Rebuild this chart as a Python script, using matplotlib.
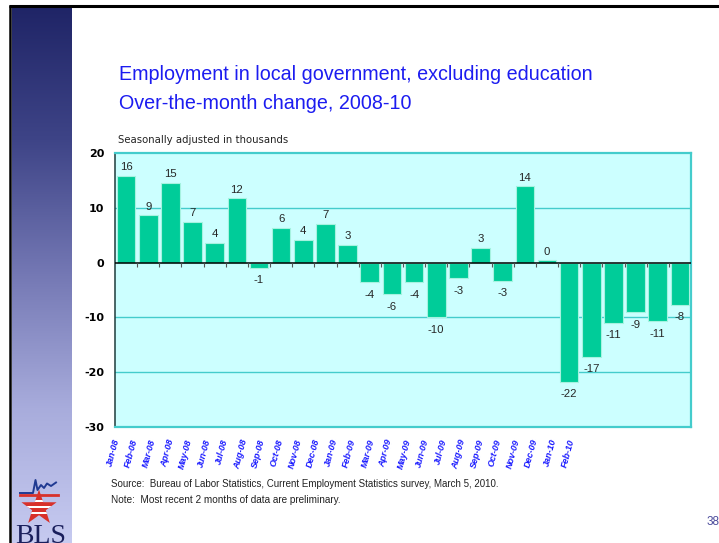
import numpy as np
import matplotlib
matplotlib.use("Agg")
import matplotlib.pyplot as plt
from matplotlib.patches import Polygon, Rectangle
from matplotlib.colors import LinearSegmentedColormap

# Over-the-month change in local government employment excl. education (thousands)
months = ["Jan-08", "Feb-08", "Mar-08", "Apr-08", "May-08", "Jun-08", "Jul-08",
          "Aug-08", "Sep-08", "Oct-08", "Nov-08", "Dec-08", "Jan-09", "Feb-09",
          "Mar-09", "Apr-09", "May-09", "Jun-09", "Jul-09", "Aug-09", "Sep-09",
          "Oct-09", "Nov-09", "Dec-09", "Jan-10", "Feb-10"]
change = [15.8, 8.6, 14.6, 7.4, 3.6, 11.7, -0.9, 6.4, 4.2, 7.0, 3.3, -3.6, -5.8,
          -3.6, -10.0, -2.9, 2.6, -3.3, 13.9, 0.4, -21.8, -17.2, -11.0, -9.1,
          -10.7, -7.7]
y_ticks = [20, 10, 0, -10, -20, -30]

title_1 = "Employment in local government, excluding education"
title_2 = "Over-the-month change, 2008-10"
units = "Seasonally adjusted in thousands"
source = "Source:  Bureau of Labor Statistics, Current Employment Statistics survey, March 5, 2010."
note = "Note:  Most recent 2 months of data are preliminary."
page_no = "38"

W, H = 719, 543
fig = plt.figure(figsize=(W / 100, H / 100), dpi=100)
fig.patch.set_facecolor("white")
plt.rcParams["font.family"] = ["Liberation Sans", "DejaVu Sans"]

# ---- slide decoration (pixel coordinates) ----
deco = fig.add_axes([0, 0, 1, 1], zorder=0)
deco.set_xlim(0, W)
deco.set_ylim(H, 0)
deco.axis("off")

band = LinearSegmentedColormap.from_list(
    "band", ["#1f2466", "#3e4487", "#7478b4", "#a8acdc", "#c6caf0"])
grad = np.linspace(0, 1, 256).reshape(-1, 1)
deco.imshow(grad, cmap=band, extent=[12, 72, H, 5], aspect="auto", zorder=1)
deco.plot([9, W], [5.5, 5.5], color="black", lw=2.2, zorder=2, solid_capstyle="butt")
deco.plot([10, 10], [5, H], color="black", lw=1.8, zorder=2, solid_capstyle="butt")

# BLS logo: striped star, trend line and letters
cx, cy, R, r = 39, 508, 18.5, 7.2
ang = np.deg2rad(90 + np.arange(10) * 36)
rad = np.where(np.arange(10) % 2 == 0, R, r)
star_pts = np.column_stack([cx + rad * np.cos(ang), cy - rad * np.sin(ang)])
star = Polygon(star_pts, closed=True, facecolor="#d8312b", edgecolor="none", zorder=3)
deco.add_patch(star)
for sy in (500, 506, 512):
    stripe = Rectangle((15, sy), 50, 2.2, facecolor="white", edgecolor="none", zorder=4)
    deco.add_patch(stripe)
    stripe.set_clip_path(star)
deco.plot([20, 58], [495, 495], color="#d8312b", lw=2.0, zorder=4)
deco.plot([20, 33, 35.5, 37.5, 41, 44, 47, 51, 56],
          [493, 493, 480, 490, 485, 488, 483.5, 486, 482.5],
          color="#203a92", lw=1.4, zorder=5)
deco.text(41, 543, "BLS", family="Liberation Serif", fontsize=20, color="#1a1f5c",
          ha="center", va="baseline", zorder=5)

# ---- titles and notes ----
fig.text(119 / W, 1 - 80 / H, title_1, fontsize=14.2, color="#1c1cf0", va="baseline")
fig.text(119 / W, 1 - 109 / H, title_2, fontsize=14.2, color="#1c1cf0", va="baseline")
fig.text(118 / W, 1 - 143 / H, units, fontsize=7.3, family="DejaVu Sans",
         color="#222222", va="baseline")
fig.text(111 / W, 1 - 487 / H, source, fontsize=7.05, color="#222222", va="baseline")
fig.text(111 / W, 1 - 503 / H, note, fontsize=7.2, color="#222222", va="baseline")
fig.text(707 / W, 1 - 525 / H, page_no, fontsize=8.5, color="#4b4b9b", va="baseline")

# ---- bar chart ----
L, T, Rt, B = 115, 153, 691, 427
ax = fig.add_axes([L / W, 1 - B / H, (Rt - L) / W, (B - T) / H], zorder=2)
ax.set_facecolor("#ccffff")
n = len(months)
x = np.arange(n)
ax.set_xlim(-0.5, n - 0.5)
ax.set_ylim(min(y_ticks), max(y_ticks))

for g in y_ticks[1:-1]:
    if g != 0:
        ax.axhline(g, color="#44cccc", lw=1.0, zorder=1)

ax.bar(x, change, width=0.84, color="#00cc99", edgecolor="#a6f2e0", linewidth=0.8, zorder=3)
ax.axhline(0, color="black", lw=1.1, zorder=4)
ax.vlines(x[1:] - 0.5, -0.75, 0, color="#555555", lw=0.8, zorder=4)

for xi, v in zip(x, change):
    if v >= 0:
        ax.annotate(f"{v:.0f}", (xi, v), xytext=(0, 2.8), textcoords="offset points",
                    ha="center", va="bottom", fontsize=8.2, color="#262626", zorder=5)
    else:
        ax.annotate(f"{v:.0f}", (xi, v), xytext=(0, -5.3), textcoords="offset points",
                    ha="center", va="top", fontsize=8.2, color="#262626", zorder=5)

ax.set_yticks(y_ticks)
ax.set_yticklabels([str(t) for t in y_ticks], fontsize=8, fontweight="bold",
                   family="DejaVu Sans")
ax.tick_params(axis="y", length=0, pad=7.7)
ax.set_xticks([])
for side in ("top", "right", "bottom"):
    ax.spines[side].set_color("#44cccc")
    ax.spines[side].set_linewidth(1.6)
ax.spines["left"].set_color("#1e3c3c")
ax.spines["left"].set_linewidth(1.1)

# month labels sit on their own, more tightly spaced scale
lab_l, lab_r = 103.9, 577
lab = fig.add_axes([lab_l / W, 1 - B / H, (lab_r - lab_l) / W, 0.01], zorder=2)
lab.set_xlim(-0.5, n - 0.5)
lab.patch.set_alpha(0)
for s in lab.spines.values():
    s.set_visible(False)
lab.set_yticks([])
lab.set_xticks(x)
lab.set_xticklabels(months, rotation=75, ha="center", va="top", fontsize=6.5,
                    fontweight="bold", fontstyle="italic", color="#1a1aff")
lab.tick_params(axis="x", length=0, pad=8)

fig.savefig("out.png", dpi=100)
